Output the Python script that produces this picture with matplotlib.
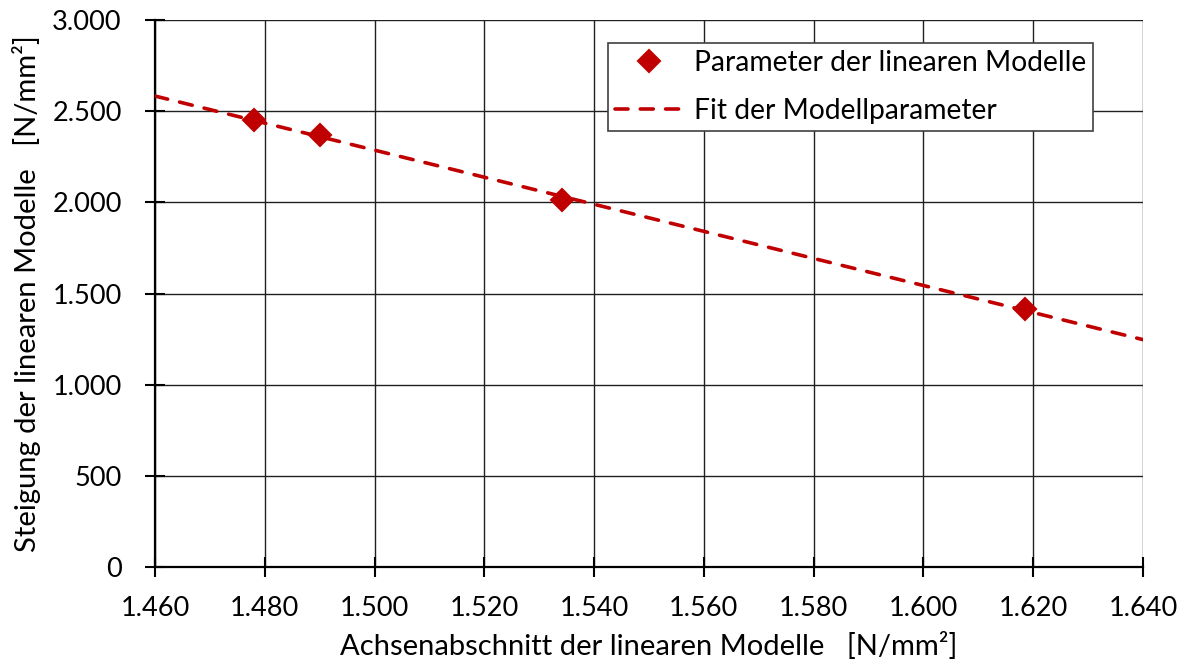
import matplotlib
matplotlib.use("Agg")
import matplotlib.pyplot as plt
from matplotlib.ticker import FuncFormatter, MultipleLocator

# Data
param_x = [1478.0, 1490.0, 1534.2, 1618.5]
param_y = [2450, 2370, 2013, 1413]
fit_x = [1460, 1640]
fit_y = [2583, 1247]

x_label = "Achsenabschnitt der linearen Modelle   [N/mm²]"
y_label = "Steigung der linearen Modelle   [N/mm²]"
series_names = ["Parameter der linearen Modelle", "Fit der Modellparameter"]

plt.rcParams['font.family'] = ['Lato', 'DejaVu Sans']
red = "#C00000"

fig = plt.figure(figsize=(11.89, 6.69), dpi=100)
ax = fig.add_axes([155/1189, 1-567/669, (1143-155)/1189, (567-20)/669])

ax.plot(fit_x, fit_y, color=red, lw=2.6, dashes=(3.6, 3.4), dash_capstyle='round',
        label=series_names[1], zorder=3)
ax.plot(param_x, param_y, linestyle='none', marker='D', markersize=11, color=red,
        markeredgewidth=1.5, markeredgecolor=red, label=series_names[0], zorder=4)

ax.set_xlim(1460, 1640)
ax.set_ylim(0, 3000)
ax.xaxis.set_major_locator(MultipleLocator(20))
ax.yaxis.set_major_locator(MultipleLocator(500))

def thousands(v, pos):
    s = f"{int(round(v)):,}".replace(",", ".")
    return s

ax.xaxis.set_major_formatter(FuncFormatter(thousands))
ax.yaxis.set_major_formatter(FuncFormatter(thousands))

ax.grid(True, color="#202020", lw=1.0)
ax.set_axisbelow(True)
for s in ['top', 'right']:
    ax.spines[s].set_visible(False)
for s in ['left', 'bottom']:
    ax.spines[s].set_linewidth(1.6)
    ax.spines[s].set_color('black')

ax.tick_params(axis='both', direction='inout', length=14, width=1.5, labelsize=19.5,
               color='black')
ax.tick_params(axis='y', pad=17)
ax.tick_params(axis='x', pad=14)

ax.set_xlabel(x_label, fontsize=21, labelpad=8)
ax.set_ylabel(y_label, fontsize=21, labelpad=8)

h, l = ax.get_legend_handles_labels()
leg = ax.legend([h[1], h[0]], [l[1], l[0]], loc='upper right',
                bbox_to_anchor=((1093-155)/988, (567-43)/547),
                fontsize=20.3, frameon=True, fancybox=False, edgecolor='#404040',
                framealpha=1, borderpad=0.25, handlelength=2.4, handletextpad=0.4,
                labelspacing=0.78, borderaxespad=0)
leg.get_frame().set_linewidth(1.2)

fig.savefig("out.png", dpi=100)
